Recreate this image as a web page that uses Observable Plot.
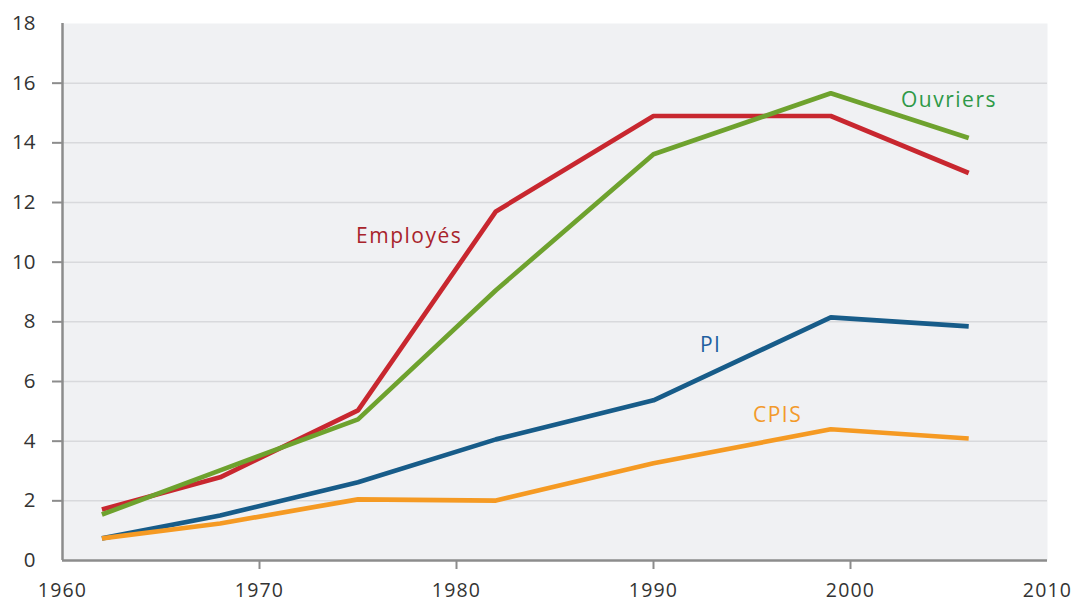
<!DOCTYPE html>
<html><head><meta charset="utf-8">
<script src="https://cdn.jsdelivr.net/npm/d3@7"></script>
<script src="https://cdn.jsdelivr.net/npm/@observablehq/plot@0.6"></script>
<style>body{margin:0;background:#fff}svg{display:block}</style>
</head><body><div id="chart"></div>
<script>
const years = [1962, 1968, 1975, 1982, 1990, 1999, 2006];
const employes = [1.71, 2.79, 5.03, 11.7, 14.9, 14.9, 12.99];
const ouvriers = [1.54, 3.02, 4.73, 9.06, 13.62, 15.66, 14.16];
const pi = [0.74, 1.51, 2.62, 4.06, 5.37, 8.15, 7.85];
const cpis = [0.74, 1.24, 2.05, 2.01, 3.26, 4.40, 4.09];
const seriesNames = ["Employés", "Ouvriers", "PI", "CPIS"];
const lineColors = ["#c8272f", "#6ea22e", "#175c89", "#f59a23"];
const labelColors = ["#a8232b", "#2e9947", "#1f5fa0", "#f39a2b"];
const labelX = [1977.6, 2005.0, 1992.9, 1996.3];
const labelY = [10.87, 15.44, 7.21, 4.87];
const yTicks = [0, 2, 4, 6, 8, 10, 12, 14, 16, 18];
const xTicks = [1960, 1970, 1980, 1990, 2000, 2010];

const valuesBySeries = [employes, ouvriers, pi, cpis];
const data = [];
seriesNames.forEach((s, i) => years.forEach((yr, j) => data.push({series: s, year: yr, value: valuesBySeries[i][j]})));
const labels = seriesNames.map((s, i) => ({name: s, x: labelX[i], y: labelY[i], color: labelColors[i]}));

const axisColor = "#8c8c8c";
const svg = Plot.plot({
  width: 1071, height: 602,
  marginLeft: 62, marginRight: 24, marginTop: 23, marginBottom: 42,
  style: {fontFamily: "'Open Sans', sans-serif", background: "#fff", color: "#333"},
  x: {domain: [1960, 2010]},
  y: {domain: [0, 18]},
  color: {domain: seriesNames, range: lineColors},
  marks: [
    Plot.frame({fill: "#f0f1f3", stroke: "none"}),
    Plot.ruleY(yTicks.filter(d => d > 0 && d < 18), {stroke: "#d8d9dc", strokeWidth: 1.5}),
    Plot.line(data, {x: "year", y: "value", z: "series", stroke: "series", strokeWidth: 4.7, strokeLinejoin: "miter", strokeLinecap: "butt"}),
    Plot.ruleX([1960], {stroke: axisColor, strokeWidth: 2.5}),
    Plot.ruleY([0], {stroke: axisColor, strokeWidth: 2.5}),
    Plot.axisY(yTicks.filter(d => d > 0 && d < 18), {tickSize: 10, tickFormat: () => "", stroke: axisColor, strokeWidth: 2}),
    Plot.axisY(yTicks, {tickSize: 0, tickPadding: 27, fontSize: 20.5, fill: "#333"}),
    Plot.axisX(xTicks.filter(d => d > 1960 && d < 2010), {tickSize: 9, tickFormat: () => "", stroke: axisColor, strokeWidth: 2}),
    Plot.axisX(xTicks, {tickSize: 0, tickPadding: 23, fontSize: 19.5, fill: "#333", tickFormat: d => String(d)}),
    ...labels.map(l => Plot.text([l], {x: "x", y: "y", text: "name", fill: l.color, fontSize: 21}))
  ]
});
d3.select(svg).selectAll("g[aria-label=text] text").attr("letter-spacing", "1.5px");
d3.select(svg).selectAll("g[aria-label='x-axis tick label'] text").attr("letter-spacing", "1.2px");
document.getElementById("chart").appendChild(svg);
</script>
</body></html>
